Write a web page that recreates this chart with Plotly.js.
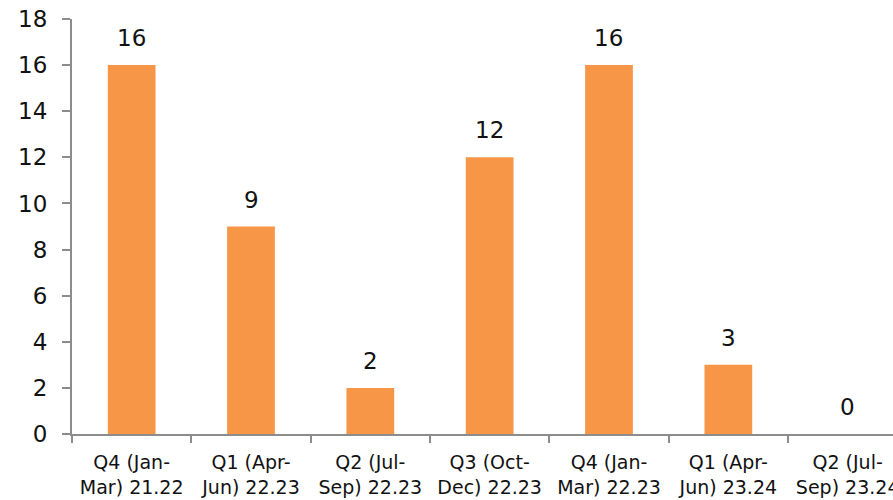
<!DOCTYPE html>
<html><head><meta charset="utf-8">
<script src="https://cdn.plot.ly/plotly-3.0.1.min.js"></script>
<style>html,body{margin:0;padding:0;overflow:hidden;background:#fff}#chart{width:893px;height:500px}</style>
</head><body><div id="chart"></div>
<script>
const categories = ["Q4 (Jan-<br>Mar) 21.22","Q1 (Apr-<br>Jun) 22.23","Q2 (Jul-<br>Sep) 22.23","Q3 (Oct-<br>Dec) 22.23","Q4 (Jan-<br>Mar) 22.23","Q1 (Apr-<br>Jun) 23.24","Q2 (Jul-<br>Sep) 23.24"];
const values = [16, 9, 2, 12, 16, 3, 0];
const yTicks = [0,2,4,6,8,10,12,14,16,18];

const FONT = "DejaVu Sans, Lato, sans-serif";
const trace = {
  type: "bar", x: categories, y: values,
  marker: {color: "#F79646"},
  hoverinfo: "none"
};
const annotations = categories.map((c, i) => ({
  x: c, y: values[i], xref: "x", yref: "y",
  text: String(values[i]), showarrow: false,
  yanchor: "bottom", yshift: 12,
  font: {family: FONT, size: 23, color: "#111"}
}));
const axisColor = "#8c8c8c";
const layout = {
  width: 893, height: 500,
  margin: {l: 72, r: 0, t: 19, b: 66},
  paper_bgcolor: "#fff", plot_bgcolor: "#fff",
  bargap: 0.6, showlegend: false,
  font: {family: FONT, color: "#111"},
  xaxis: {
    range: [-0.5, 6.38], showgrid: false, zeroline: false,
    showline: true, linecolor: axisColor, linewidth: 2,
    ticks: "outside", tickson: "boundaries", ticklen: 7, tickcolor: axisColor, tickwidth: 2,
    ticklabelstandoff: 10,
    tickfont: {family: FONT, size: 19, color: "#111"}, fixedrange: true
  },
  yaxis: {
    range: [0, 18], tickvals: yTicks, ticktext: yTicks.map(String),
    showgrid: false, zeroline: false,
    showline: true, linecolor: axisColor, linewidth: 2,
    ticks: "outside", ticklen: 8, tickcolor: axisColor, tickwidth: 2,
    ticklabelstandoff: 10,
    tickfont: {family: FONT, size: 23, color: "#111"}, fixedrange: true
  },
  annotations: annotations
};
Plotly.newPlot("chart", [trace], layout, {displayModeBar: false, staticPlot: true});
</script></body></html>
